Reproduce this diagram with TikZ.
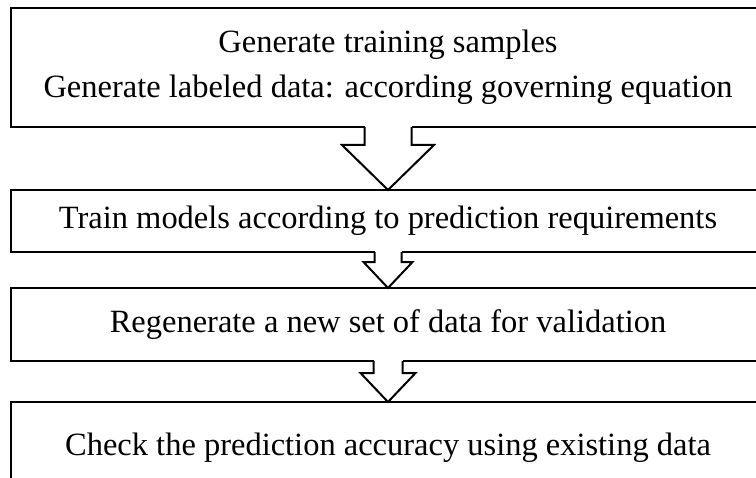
\documentclass[tikz,border=0pt]{standalone}
\usepackage{fontspec}
\setmainfont{Liberation Serif}
\usetikzlibrary{calc}
\newcommand\blkarrow[5]{%
  \fill[white] ($(#1.south -| ax)+(-#3,-2)$) rectangle ($(#1.south -| ax)+(#3,#5)$);
  \draw[arrowline] ($(#1.south -| ax)+(-#3,0)$) -- ($(#1.south -| ax)+(-#3,#5)$)
    -- ($(#1.south -| ax)+(-#4,#5)$) -- (#2.north -| ax)
    -- ($(#1.south -| ax)+(#4,#5)$) -- ($(#1.south -| ax)+(#3,#5)$)
    -- ($(#1.south -| ax)+(#3,0)$);
}
\begin{document}
\begin{tikzpicture}[x=1bp,y=-1bp,
  box/.style={draw,line width=2bp,outer sep=0pt,minimum width=754bp,inner sep=0pt,
    align=center,font=\fontsize{32.6}{45}\selectfont},
  arrowline/.style={line width=2bp,line join=miter}]
\useasboundingbox (0,0) rectangle (756,478);
\clip (0,0) rectangle (756,478);
\node[box,minimum height=119bp] (b1) at (388,67.5)
  {Generate training samples\\Generate labeled data: according governing equation};
\node[box,minimum height=62bp] (b2) at (388,221)
  {\raisebox{-1.5bp}{Train models according to prediction requirements}};
\node[box,minimum height=73bp] (b3) at (388,324.5)
  {Regenerate a new set of data for validation};
\node[box,minimum height=92bp] (b4) at (388,448)
  {Check the prediction accuracy using existing data};
\coordinate (ax) at (388,0);
\blkarrow{b1}{b2}{23.5}{46}{18}
\blkarrow{b2}{b3}{13.5}{24.5}{10}
\blkarrow{b3}{b4}{14.5}{27.5}{12}
\end{tikzpicture}
\end{document}
